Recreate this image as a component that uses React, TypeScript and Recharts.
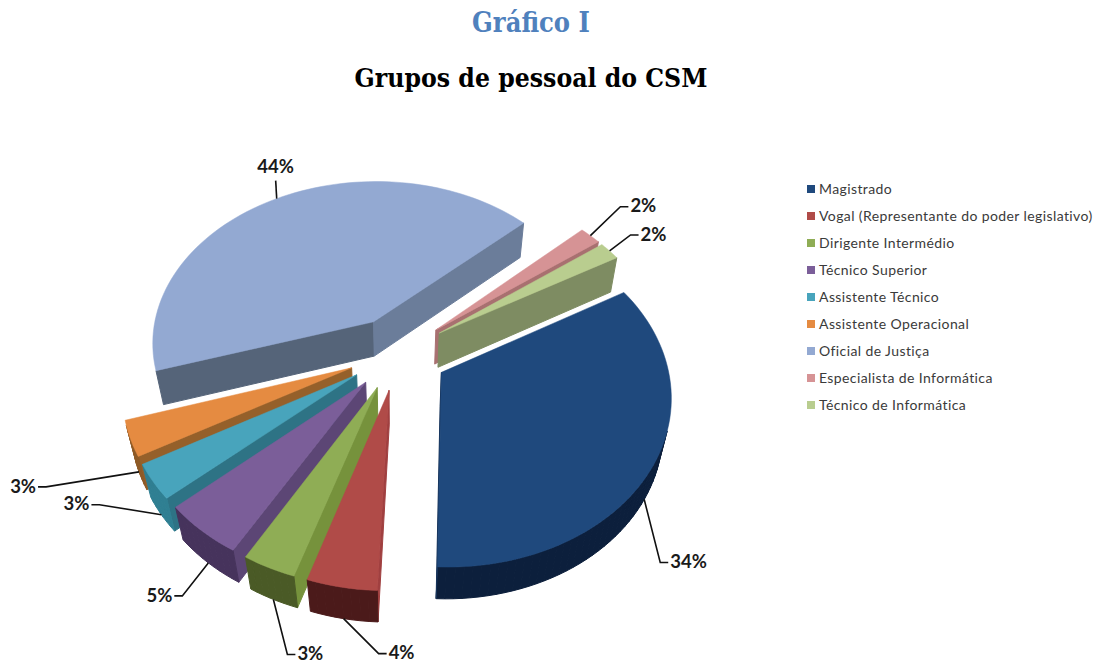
import React from "react";
import { PieChart, Pie, Cell, Legend } from "recharts";

const categories = ["Magistrado","Vogal (Representante do poder legislativo)","Dirigente Intermédio","Técnico Superior","Assistente Técnico","Assistente Operacional","Oficial de Justiça","Especialista de Informática","Técnico de Informática"];
const percentages = [34.4,4.4,3.4,5.2,3.4,3.4,43.5,1.8,1.8];
const topColors = ["#1f497d","#b04b48","#8fad55","#7b5e99","#48a4bc","#e58b41","#93a9d2","#d69395","#b9cd8f"];
const wallColors = ["#0c1f3c","#4b1a1a","#4a5a26","#46335c","#2f7f92","#8e5a26","#556479","#a87070","#7e8c62"];
const startCutColors = ["#16335a","#a04040","#76923c","#5c4675","#2e7385","#95602a","#556479","#a87070","#7e8c62"];
const endCutColors = ["#16335a","#a04040","#76923c","#5c4675","#2e7385","#95602a","#6b7d9a","#a87070","#7e8c62"];
// leader elbow offset from the slice's rim, and side of the label
const leaderOffsets = [[16,63,1],[35,35,1],[14,55,1],[-26,33,-1],[-62,-10,-1],[-93,15,-1],[-1,-18,0],[30,-29,1],[21,-16,1]];

const TILT = 47.5 * Math.PI / 180;
const FOCAL = 1210;
const HEIGHT = 52;
const EXPLODE = 50;
const RAD = Math.PI / 180;
const FIRST_ANGLE = 30;

// Drawn back to front (the near slices paint over the far ones), so the table runs in reverse.
const data = categories.map((name, i) => ({ name, value: percentages[i], color: topColors[i] })).reverse();
const total = percentages.reduce((a, b) => a + b, 0);
const sweep = (v: number) => (v / total) * 360;
// The two 2% slices overlap the other way round, so each gets its own Pie, painted first.
const infoTech = data.slice(0, 1);
const infoSpec = data.slice(1, 2);
const others = data.slice(2);
const infoTechEnd = FIRST_ANGLE + sweep(infoTech[0].value);
const infoSpecEnd = infoTechEnd + sweep(infoSpec[0].value);

function project(cx: number, cy: number, x: number, y: number, z: number) {
  const depth = y * Math.cos(TILT) - z * Math.sin(TILT);
  const s = FOCAL / (FOCAL + depth);
  return [cx + x * s, cy - (y * Math.sin(TILT) + z * Math.cos(TILT)) * s];
}
const toPath = (pts: number[][]) => "M" + pts.map((p) => p[0].toFixed(2) + " " + p[1].toFixed(2)).join("L") + "Z";
function area(pts: number[][]) {
  let a = 0;
  pts.forEach((p, i) => { const q = pts[(i + 1) % pts.length]; a += p[0] * q[1] - q[0] * p[1]; });
  return a;
}

function Slice3D(props: any) {
  const { cx, cy, outerRadius: R, name } = props;
  const a0 = Math.max(props.startAngle, props.endAngle), a1 = Math.min(props.startAngle, props.endAngle);
  const i = categories.indexOf(name);
  const mid = ((a0 + a1) / 2) * RAD;
  const ox = EXPLODE * Math.cos(mid), oy = EXPLODE * Math.sin(mid);
  const bound: [number, number][] = [[ox, oy]];
  const n = Math.max(6, Math.ceil((a0 - a1) / 2));
  for (let k = 0; k <= n; k++) {
    const a = (a0 + (a1 - a0) * (k / n)) * RAD;
    bound.push([ox + R * Math.cos(a), oy + R * Math.sin(a)]);
  }
  const faces: React.ReactNode[] = [];
  bound.forEach((P, k) => {
    const Q = bound[(k + 1) % bound.length];
    const quad = [project(cx, cy, P[0], P[1], 0), project(cx, cy, Q[0], Q[1], 0), project(cx, cy, Q[0], Q[1], -HEIGHT), project(cx, cy, P[0], P[1], -HEIGHT)];
    if (area(quad) >= 0) return;
    const col = k === 0 ? startCutColors[i] : k === bound.length - 1 ? endCutColors[i] : wallColors[i];
    faces.push(<path key={k} d={toPath(quad)} fill={col} stroke={col} strokeWidth={1} />);
  });
  return (
    <g>
      {faces}
      <path d={toPath(bound.map((p) => project(cx, cy, p[0], p[1], 0)))} fill={topColors[i]} stroke={topColors[i]} strokeWidth={0.5} />
    </g>
  );
}

function Leader(props: any) {
  const { cx, cy, outerRadius: R, startAngle, endAngle, name, value } = props;
  const i = categories.indexOf(name);
  const mid = ((startAngle + endAngle) / 2) * RAD;
  const x = (EXPLODE + R) * Math.cos(mid), y = (EXPLODE + R) * Math.sin(mid);
  const a = project(cx, cy, x, y, Math.sin(mid) < 0 ? -HEIGHT : 0);
  const [dx, dy, side] = leaderOffsets[i];
  const e = [a[0] + dx, a[1] + dy];
  const tail = [e[0] + side * 8, e[1]];
  const tx = side === 0 ? e[0] : tail[0] + side * 2;
  const ty = side === 0 ? e[1] - 8 : e[1] + 1;
  return (
    <g>
      <polyline points={`${a[0]},${a[1]} ${e[0]},${e[1]} ${tail[0]},${tail[1]}`} fill="none" stroke="#111" strokeWidth={1.6} />
      <text x={tx} y={ty} textAnchor={side === 0 ? "middle" : side > 0 ? "start" : "end"} dominantBaseline={side === 0 ? "auto" : "middle"} fontFamily="Lato" fontWeight={700} fontSize={18.5} fill="#1a1a1a">{Math.round(value)}%</text>
    </g>
  );
}

function LegendRows({ payload }: any) {
  return (
    <div>
      {[...(payload || [])].sort((a: any, b: any) => categories.indexOf(a.value) - categories.indexOf(b.value)).map((p: any) => (
        <div key={p.value} style={{ height: 27, display: "flex", alignItems: "center", whiteSpace: "nowrap" }}>
          <span style={{ width: 8, height: 8, background: p.color, marginRight: 4, flex: "none" }} />
          <span style={{ fontFamily: "Lato", fontSize: 14, color: "#3a3a3a", letterSpacing: 0.4 }}>{p.value}</span>
        </div>
      ))}
    </div>
  );
}

const pieProps = { dataKey: "value", nameKey: "name", cx: 393, cy: 348, outerRadius: 224, paddingAngle: 0, stroke: "none", isAnimationActive: false, shape: Slice3D as any, label: Leader as any, labelLine: false };

export default function App() {
  return (
    <div style={{ position: "absolute", left: 0, top: 0, width: 1103, height: 661, background: "#fff", overflow: "hidden" }}>
      <div style={{ position: "absolute", left: 0, width: 1062, top: 7, textAlign: "center", fontFamily: "'DejaVu Serif Condensed','DejaVu Serif'", fontWeight: 700, fontSize: 27, color: "#4f81bd" }}>Gráfico I</div>
      <div style={{ position: "absolute", left: 0, width: 1062, top: 62, textAlign: "center", fontFamily: "'DejaVu Serif Condensed','DejaVu Serif'", fontWeight: 700, fontSize: 26.3, color: "#000" }}>Grupos de pessoal do CSM</div>
      <div style={{ position: "absolute", left: 0, top: 0 }}>
        <PieChart width={1103} height={661}>
          <Pie {...pieProps} data={infoSpec} startAngle={infoTechEnd} endAngle={infoSpecEnd}>
            {infoSpec.map((d) => <Cell key={d.name} fill={d.color} />)}
          </Pie>
          <Pie {...pieProps} data={infoTech} startAngle={FIRST_ANGLE} endAngle={infoTechEnd}>
            {infoTech.map((d) => <Cell key={d.name} fill={d.color} />)}
          </Pie>
          <Pie {...pieProps} data={others} startAngle={infoSpecEnd} endAngle={FIRST_ANGLE + 360}>
            {others.map((d) => <Cell key={d.name} fill={d.color} />)}
          </Pie>
          <Legend layout="vertical" align="right" verticalAlign="top" itemSorter={null as any} content={LegendRows as any} wrapperStyle={{ left: 807, right: "auto", top: 175, width: 296 }} />
        </PieChart>
      </div>
    </div>
  );
}
